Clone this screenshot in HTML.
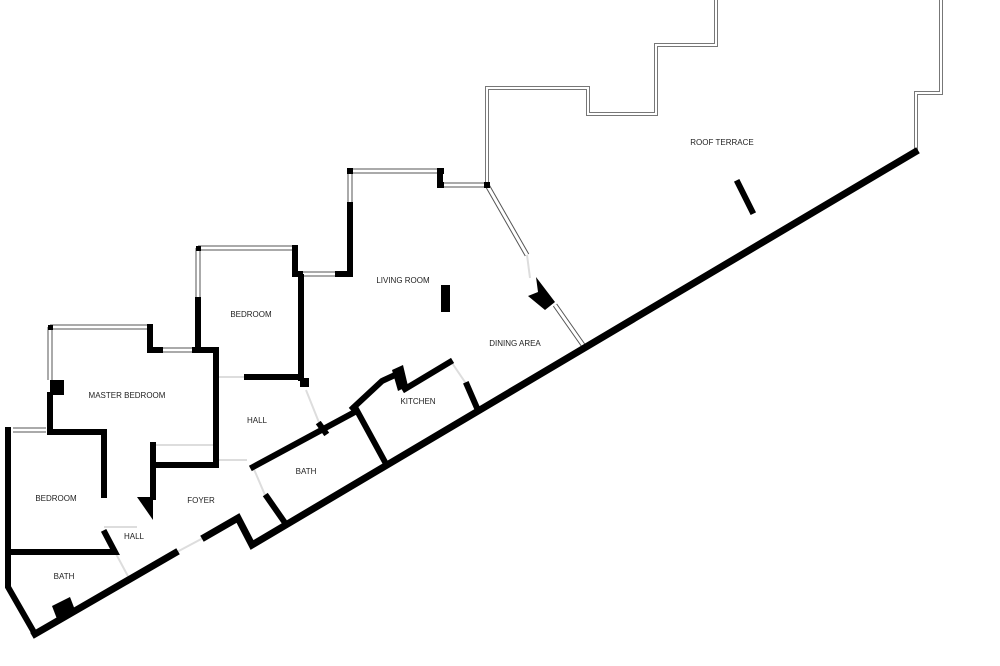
<!DOCTYPE html>
<html><head><meta charset="utf-8"><style>
html,body{margin:0;padding:0;background:#fff}
svg{display:block}
.w{stroke:#000;stroke-width:6;fill:none;stroke-linecap:square;stroke-linejoin:miter}
.wm{stroke:#000;stroke-width:7;fill:none;stroke-linecap:square;stroke-linejoin:miter}
.wi{stroke:#555;stroke-width:5;fill:none}
.wi2{stroke:#fff;stroke-width:3;fill:none}
.t1{stroke:#777;stroke-width:4;fill:none;stroke-linejoin:miter}
.t2{stroke:#fff;stroke-width:2;fill:none;stroke-linejoin:miter}
.g{stroke:#ddd;stroke-width:2;fill:none}
text{font-family:"Liberation Sans",sans-serif;font-size:8px;fill:#222;text-anchor:middle}
</style></head><body>
<svg width="1000" height="666" viewBox="0 0 1000 666">
<path class="t1" d="M487,183 L487,88 L588,88 L588,114 L656,114 L656,45 L716,45 L716,0"/>
<path class="t2" d="M487,183 L487,88 L588,88 L588,114 L656,114 L656,45 L716,45 L716,0"/>
<path class="t1" d="M941,0 L941,93 L916,93 L916,152"/>
<path class="t2" d="M941,0 L941,93 L916,93 L916,152"/>
<g>
<path class="wi" d="M350,171 L440,171 M440,185 L487,185 M350,171 L350,205 M303,274 L338,274 M198,248 L295,248 M198,248 L198,300 M487,185 L527,255 M555,305 L583,345 M50,327 L150,327 M50,327 L50,380 M160,350 L195,350 M13,430 L46,430"/>
<path class="wi2" d="M350,171 L440,171 M440,185 L487,185 M350,171 L350,205 M303,274 L338,274 M198,248 L295,248 M198,248 L198,300 M487,185 L527,255 M555,305 L583,345 M50,327 L150,327 M50,327 L50,380 M160,350 L195,350 M13,430 L46,430"/>
</g>
<path class="g" d="M218,377 L247,377 M218,460 L247,460 M104,527 L137,527 M8,552 L104,552 M153,445 L216,445 M306,390 L320,425 M253,467 L265,495 M175,553 L205,537 M115,552 L130,580 M450,360 L467,385 M527,255 L530,278"/>
<g class="w">
<path class="wm" d="M35,634 L175,553"/>
<path class="wm" d="M205,537 L238,518 L252,545 L915,152"/>
<path d="M440,171 L440,185"/>
<path d="M350,205 L350,274 L338,274"/>
<path d="M295,248 L295,274 L303,274 L301,274 L301,378"/>
<path d="M247,377 L301,377"/>
<path d="M198,300 L198,350 L216,350 L216,465"/>
<path d="M150,327 L150,350 L160,350"/>
<path d="M195,350 L216,350"/>
<path d="M50,395 L50,432 L104,432 L104,495"/>
<path d="M153,445 L153,497"/>
<path d="M153,465 L216,465"/>
<path d="M8,430 L8,587 L35,634"/>
<path d="M8,552 L115,552 L105,533"/>
<path d="M253,467 L353,413"/>
<path d="M353,408 L382,381 L395,375"/>
<path d="M405,389 L450,362"/>
<path d="M467,385 L477,408"/>
<path d="M355,407 L385,462"/>
<path d="M267,497 L283,520"/>
<path d="M320,425 L325,432"/>
<path d="M738,183 L752,211"/>
</g>
<rect x="441" y="285" width="9" height="27" fill="#000"/>
<polygon points="536,277 555,302 545,310 528,296 538,292" fill="#000"/>
<polygon points="392,370 403,365 408,386 398,391" fill="#000"/>
<rect x="50" y="380" width="14" height="15" fill="#000"/>
<polygon points="137,497 153,497 153,520" fill="#000"/>
<polygon points="52,606 70,597 75,610 57,619" fill="#000"/>
<rect x="300" y="378" width="9" height="9" fill="#000"/>
<rect x="347" y="168" width="6" height="6" fill="#000"/>
<rect x="438" y="168" width="6" height="6" fill="#000"/>
<rect x="438" y="182" width="6" height="6" fill="#000"/>
<rect x="484" y="182" width="6" height="6" fill="#000"/>
<rect x="196" y="246" width="5" height="5" fill="#000"/>
<rect x="48" y="325" width="5" height="5" fill="#000"/>
<text x="722" y="145">ROOF TERRACE</text>
<text x="403" y="283">LIVING ROOM</text>
<text x="515" y="346">DINING AREA</text>
<text x="251" y="317">BEDROOM</text>
<text x="418" y="404">KITCHEN</text>
<text x="127" y="398">MASTER BEDROOM</text>
<text x="257" y="423">HALL</text>
<text x="306" y="474">BATH</text>
<text x="201" y="503">FOYER</text>
<text x="56" y="501">BEDROOM</text>
<text x="134" y="539">HALL</text>
<text x="64" y="579">BATH</text>
</svg>
</body></html>
